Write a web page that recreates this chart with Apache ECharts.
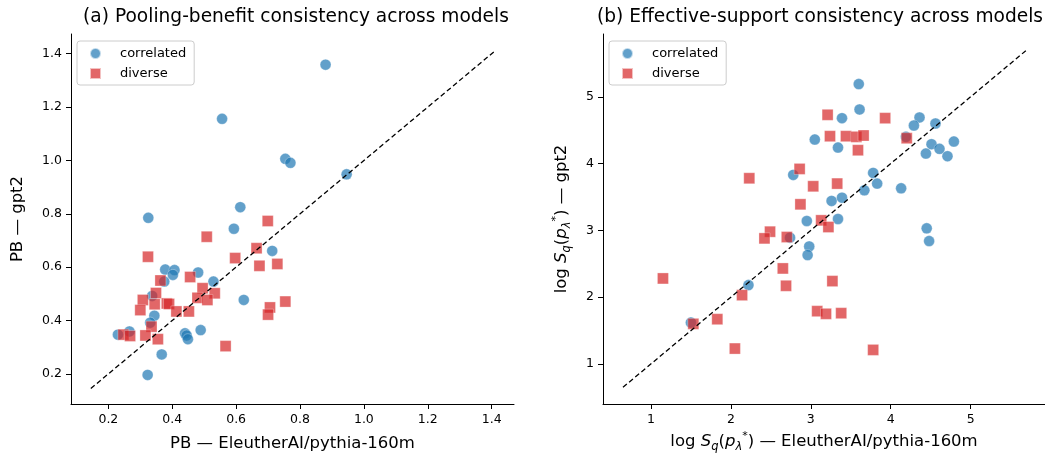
<!DOCTYPE html>
<html>
<head>
<meta charset="utf-8">
<title>Consistency across models</title>
<script src="https://cdn.jsdelivr.net/npm/echarts@6/dist/echarts.min.js"></script>
</head>
<body style="margin:0">
<div id="container" style="width:1045px;height:453px"></div>
<script>
// (a) pooling benefit, x = pythia-160m, y = gpt2
var pbCorrX = [0.88, 0.556, 0.754, 0.77, 0.946, 0.613, 0.325, 0.593, 0.713, 0.378, 0.407, 0.402, 0.481, 0.375, 0.529, 0.337, 0.624, 0.344, 0.331, 0.266, 0.23, 0.44, 0.445, 0.449, 0.489, 0.367, 0.323];
var pbCorrY = [1.359, 1.156, 1.006, 0.991, 0.948, 0.825, 0.785, 0.744, 0.661, 0.591, 0.589, 0.571, 0.58, 0.546, 0.546, 0.492, 0.477, 0.418, 0.392, 0.359, 0.347, 0.352, 0.344, 0.33, 0.364, 0.273, 0.196];
var pbDivX = [0.699, 0.508, 0.664, 0.324, 0.597, 0.673, 0.729, 0.456, 0.363, 0.495, 0.349, 0.533, 0.479, 0.51, 0.308, 0.345, 0.383, 0.39, 0.30, 0.413, 0.452, 0.754, 0.706, 0.70, 0.335, 0.247, 0.268, 0.316, 0.355, 0.567];
var pbDivY = [0.773, 0.714, 0.671, 0.639, 0.634, 0.605, 0.612, 0.563, 0.55, 0.521, 0.503, 0.502, 0.485, 0.477, 0.477, 0.461, 0.464, 0.462, 0.439, 0.434, 0.434, 0.471, 0.449, 0.422, 0.377, 0.347, 0.342, 0.344, 0.33, 0.304];
var pbDiag = [0.145, 1.408];
var pbTicks = [0.2, 0.4, 0.6, 0.8, 1.0, 1.2, 1.4];

// (b) log effective support
var esCorrX = [3.60, 3.61, 3.39, 4.36, 4.29, 4.56, 3.05, 3.34, 4.19, 4.51, 4.61, 4.79, 4.44, 4.71, 2.78, 3.78, 3.83, 3.67, 4.13, 3.26, 3.39, 2.95, 3.34, 2.74, 2.98, 2.96, 4.45, 4.48, 2.22, 1.50];
var esCorrY = [5.19, 4.81, 4.68, 4.69, 4.57, 4.60, 4.36, 4.24, 4.40, 4.29, 4.22, 4.33, 4.15, 4.11, 3.83, 3.86, 3.70, 3.60, 3.63, 3.44, 3.49, 3.14, 3.17, 2.89, 2.76, 2.63, 3.03, 2.84, 2.18, 1.62];
var esDivX = [3.21, 3.93, 3.24, 3.44, 3.57, 3.66, 3.59, 4.20, 2.86, 2.23, 3.03, 3.33, 2.87, 3.13, 3.22, 2.49, 2.42, 2.70, 2.65, 1.15, 2.69, 3.27, 2.14, 3.08, 3.19, 3.38, 1.83, 1.53, 2.05, 3.78];
var esDivY = [4.73, 4.68, 4.41, 4.41, 4.40, 4.42, 4.20, 4.38, 3.92, 3.78, 3.66, 3.70, 3.39, 3.15, 3.05, 2.98, 2.88, 2.90, 2.43, 2.28, 2.17, 2.24, 2.03, 1.79, 1.75, 1.76, 1.67, 1.60, 1.23, 1.21];
var esDiag = [0.65, 5.69];
var esTicks = [1, 2, 3, 4, 5];

var FONT = 'DejaVu Sans';
var BLUE = 'rgba(31,119,180,0.7)';
var RED = 'rgba(214,39,40,0.7)';

function zip(xs, ys) {
  return xs.map(function (x, i) { return [x, ys[i]]; });
}

var mathRich = {
  i: { fontFamily: FONT, fontStyle: 'italic', fontSize: 16.5, color: '#000' },
  sub: { fontFamily: FONT, fontStyle: 'italic', fontSize: 11.5, color: '#000', verticalAlign: 'bottom', lineHeight: 13 },
  sup: { fontFamily: FONT, fontSize: 11, color: '#000', verticalAlign: 'top', lineHeight: 13 }
};
var supportName = 'log {i|S}{sub|q}({i|p}{sub|λ}{sup|*}) — ';

function makeAxis(idx, min, max, ticks, fmt, name, gap, rich) {
  return {
    type: 'value', gridIndex: idx, min: min, max: max,
    name: name, nameLocation: 'middle', nameGap: gap, nameMoveOverlap: false,
    nameTextStyle: { fontFamily: FONT, fontSize: 16.5, color: '#000', lineHeight: 22, rich: rich },
    axisLine: { show: true, onZero: false, lineStyle: { color: '#000', width: 1 } },
    axisTick: { show: true, length: 5, customValues: ticks, lineStyle: { color: '#000', width: 1 } },
    axisLabel: { customValues: ticks, formatter: fmt, margin: 9, fontFamily: FONT, fontSize: 12.5, color: '#000' },
    splitLine: { show: false }
  };
}

function oneDec(v) { return v.toFixed(1); }
function noDec(v) { return v.toFixed(0); }

function scatter(name, idx, data, symbol, color) {
  return {
    name: name, type: 'scatter', xAxisIndex: idx, yAxisIndex: idx,
    data: data, symbol: symbol, symbolSize: 11,
    itemStyle: { color: color, borderColor: 'rgba(255,255,255,0.6)', borderWidth: 0.5, opacity: 1 },
    emphasis: { disabled: true }
  };
}

function diag(idx, ends) {
  return {
    type: 'line', xAxisIndex: idx, yAxisIndex: idx, z: 5,
    data: [[ends[0], ends[0]], [ends[1], ends[1]]],
    symbol: 'none', silent: true,
    lineStyle: { color: '#000', width: 1.3, type: [5, 3] }
  };
}

function legend(left) {
  return {
    left: left, top: 41, orient: 'vertical',
    data: [{ name: 'correlated', icon: 'circle' }, { name: 'diverse', icon: 'rect' }],
    itemWidth: 11, itemHeight: 11, itemGap: 7,
    padding: [6, 8, 5, 12],
    borderColor: '#cccccc', borderWidth: 1, borderRadius: 3,
    backgroundColor: 'rgba(255,255,255,0.8)',
    textStyle: { fontFamily: FONT, fontSize: 13, color: '#000', padding: [0, 0, 0, 14] },
    selectedMode: false
  };
}

var myChart = echarts.init(document.getElementById('container'));
var option = {
  animation: false,
  backgroundColor: '#fff',
  title: [
    { text: '(a) Pooling-benefit consistency across models', left: 296, top: 8, textAlign: 'center', padding: 0,
      textStyle: { fontFamily: FONT, fontSize: 18.6, fontWeight: 'normal', color: '#000' } },
    { text: '(b) Effective-support consistency across models', left: 820, top: 8, textAlign: 'center', padding: 0,
      textStyle: { fontFamily: FONT, fontSize: 18.6, fontWeight: 'normal', color: '#000' } }
  ],
  legend: [legend(77), legend(609)],
  grid: [
    { left: 71, right: 531, top: 34, bottom: 49, outerBoundsMode: 'none' },
    { left: 603, right: 0, top: 34, bottom: 49, outerBoundsMode: 'none' }
  ],
  xAxis: [
    makeAxis(0, 0.083, 1.47, pbTicks, oneDec, 'PB — EleutherAI/pythia-160m', 29),
    makeAxis(1, 0.4, 5.93, esTicks, noDec, supportName + 'EleutherAI/pythia-160m', 27, mathRich)
  ],
  yAxis: [
    makeAxis(0, 0.087, 1.474, pbTicks, oneDec, 'PB — gpt2', 42),
    makeAxis(1, 0.4, 5.94, esTicks, noDec, supportName + 'gpt2', 30, mathRich)
  ],
  series: [
    scatter('correlated', 0, zip(pbCorrX, pbCorrY), 'circle', BLUE),
    scatter('diverse', 0, zip(pbDivX, pbDivY), 'rect', RED),
    diag(0, pbDiag),
    scatter('correlated', 1, zip(esCorrX, esCorrY), 'circle', BLUE),
    scatter('diverse', 1, zip(esDivX, esDivY), 'rect', RED),
    diag(1, esDiag)
  ]
};
myChart.setOption(option);
</script>
</body>
</html>
